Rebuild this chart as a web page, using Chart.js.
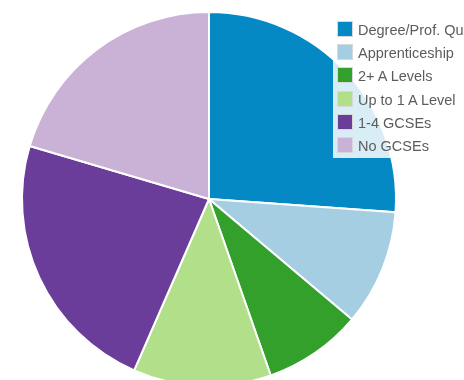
<!DOCTYPE html>
<html>
<head>
<meta charset="utf-8">
<script src="https://cdn.jsdelivr.net/npm/chart.js@4/dist/chart.umd.min.js"></script>
<style>
  body { margin: 0; background: #fff; overflow: hidden; }
  #wrap { position: relative; width: 464px; height: 380px; overflow: hidden; }
  #legend {
    position: absolute; left: 333px; top: 19px; width: 140px;
    background: rgba(255,255,255,0.85);
    font-family: Arial, "Liberation Sans", sans-serif; font-size: 14.5px; color: #5c5c5c;
    white-space: nowrap;
  }
  #legend div { height: 23.2px; line-height: 23.2px; padding-left: 4px; }
  #legend span {
    display: inline-block; width: 14px; height: 14px; vertical-align: -2px;
    border: 1px solid #d8d8d8; margin-right: 5px;
  }
</style>
</head>
<body>
<div id="wrap">
  <canvas id="qualpie" width="464" height="380"></canvas>
  <div id="legend"></div>
</div>
<script>
var labels = ['Degree/Prof. Qualification','Apprenticeship','2+ A Levels','Up to 1 A Level','1-4 GCSEs','No GCSEs'];
var shares = [26.1, 10.0, 8.5, 11.9, 23.0, 20.4];
var colours = ['#0589c4','#a6cee3','#33a02c','#b2df8a','#6a3d9a','#cab2d6'];

document.addEventListener("DOMContentLoaded",function(){
  var ctx = document.getElementById('qualpie').getContext('2d');
  new Chart(ctx,{
    type:'pie',
    data:{
      labels:labels,
      datasets:[{
        data:shares,
        backgroundColor:colours,
        borderColor:'#fff',
        borderWidth:2,
        clip:false
      }]
    },
    options:{
      responsive:false,
      animation:false,
      radius:187,
      layout:{ padding:{ left:0, right:46, top:18, bottom:0 } },
      plugins:{
        legend:{ display:false },
        tooltip:{ enabled:false }
      }
    }
  });

  // legend sits over the pie, top right
  var leg = document.getElementById('legend');
  labels.forEach(function(l,i){
    var row = document.createElement('div');
    var sw = document.createElement('span');
    sw.style.background = colours[i];
    row.appendChild(sw);
    row.appendChild(document.createTextNode(l));
    leg.appendChild(row);
  });
});
</script>
</body>
</html>
